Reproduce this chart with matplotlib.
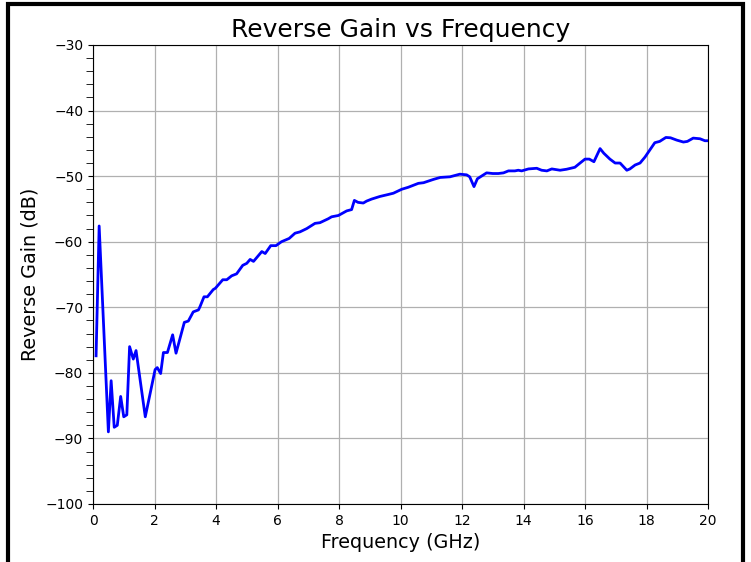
import matplotlib
matplotlib.use("Agg")
import matplotlib.pyplot as plt
from matplotlib.patches import Rectangle
from matplotlib.ticker import MultipleLocator

freq_ghz = [0.1, 0.2, 0.5, 0.59, 0.69, 0.79, 0.90, 1.0, 1.1, 1.19, 1.31, 1.40,
            1.70, 2.02, 2.09, 2.2, 2.29, 2.42, 2.59, 2.70, 2.97, 3.1, 3.26, 3.43,
            3.48, 3.61, 3.72, 3.91, 3.98, 4.22, 4.35, 4.51, 4.67, 4.87, 5.0, 5.11,
            5.22, 5.49, 5.6, 5.78, 5.95, 6.13, 6.38, 6.57, 6.73, 6.95, 7.22, 7.38,
            7.65, 7.76, 7.98, 8.25, 8.41, 8.50, 8.62, 8.79, 8.9, 9.06, 9.33, 9.6,
            9.77, 10.04, 10.25, 10.58, 10.75, 11.07, 11.29, 11.61, 11.93, 12.15,
            12.25, 12.39, 12.5, 12.8, 13.0, 13.18, 13.35, 13.51, 13.72, 13.83,
            13.94, 14.16, 14.43, 14.59, 14.76, 14.92, 15.19, 15.4, 15.67, 15.84,
            16.0, 16.14, 16.29, 16.49, 16.61, 16.81, 16.98, 17.14, 17.36, 17.46,
            17.63, 17.79, 17.95, 18.11, 18.27, 18.43, 18.63, 18.78, 18.98, 19.2,
            19.33, 19.52, 19.74, 19.9, 20.0]
gain_db = [-77.4, -57.6, -89.0, -81.2, -88.3, -88.0, -83.6, -86.7, -86.4, -76.0, -77.9, -76.6,
           -86.7, -79.5, -79.2, -80.1, -76.9, -76.9, -74.2, -77.0, -72.3, -72.1, -70.7, -70.4,
           -69.9, -68.4, -68.4, -67.3, -67.1, -65.8, -65.8, -65.2, -64.9, -63.6, -63.3, -62.7,
           -63.0, -61.5, -61.8, -60.6, -60.6, -60.0, -59.5, -58.7, -58.5, -58.0, -57.2, -57.1,
           -56.5, -56.2, -56.0, -55.3, -55.1, -53.7, -54.0, -54.1, -53.8, -53.5, -53.1, -52.8,
           -52.6, -52.0, -51.7, -51.1, -51.0, -50.5, -50.2, -50.1, -49.7, -49.8,
           -50.1, -51.6, -50.4, -49.5, -49.6, -49.6, -49.5, -49.2, -49.2, -49.1,
           -49.2, -48.9, -48.8, -49.1, -49.2, -48.9, -49.1, -48.95, -48.65, -48.0,
           -47.4, -47.4, -47.8, -45.8, -46.5, -47.4, -48.0, -48.0, -49.1, -48.9,
           -48.3, -48.0, -47.1, -46.0, -44.9, -44.7, -44.1, -44.15, -44.5, -44.8,
           -44.7, -44.2, -44.3, -44.6, -44.6]

fig = plt.figure(figsize=(7.51, 5.62), dpi=100)
ax = fig.add_axes([93/751, 1-504/562, (708-93)/751, (504-45)/562])

ax.plot(freq_ghz, gain_db, color="blue", linewidth=2)
ax.set_xlim(0, 20)
ax.set_ylim(-100, -30)
ax.xaxis.set_major_locator(MultipleLocator(2))
ax.yaxis.set_major_locator(MultipleLocator(10))
ax.yaxis.set_minor_locator(MultipleLocator(2))
ax.tick_params(axis="y", which="minor", length=5)
ax.grid(True, which="major", color="#b0b0b0", linewidth=0.9)
ax.set_axisbelow(True)
ax.set_title("Reverse Gain vs Frequency", fontsize=18)
ax.set_xlabel("Frequency (GHz)", fontsize=13.8)
ax.set_ylabel("Reverse Gain (dB)", fontsize=13.8)

border = Rectangle((7.5/751, -0.1), (743-7.5)/751, 1.1 - 4/562,
                   transform=fig.transFigure, fill=False, edgecolor="black",
                   linewidth=3.0, clip_on=False)
fig.patches.append(border)

fig.savefig("out.png", dpi=100)
